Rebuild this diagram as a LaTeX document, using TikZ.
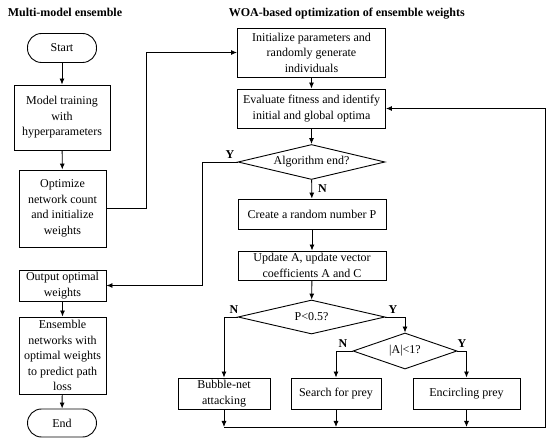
\documentclass[tikz,border=0pt]{standalone}
\usepackage{fontspec}
\setmainfont{Liberation Serif}
\usetikzlibrary{arrows.meta, shapes.geometric}

\begin{document}
\begin{tikzpicture}[x=1pt, y=-1pt, line width=0.9pt,
  font=\fontsize{12}{15.5}\selectfont,
  >={Latex[length=6pt, width=5pt]},
  box/.style={draw, rectangle, align=center, inner sep=0pt},
  term/.style={draw, rectangle, rounded corners=14pt, inner sep=0pt, minimum width=69pt, minimum height=29pt},
  decision/.style={draw, diamond, inner sep=0pt, aspect=4},
  yn/.style={font=\fontsize{12}{12}\selectfont\bfseries, inner sep=0pt}]

\useasboundingbox (0,0) rectangle (550,441);

% titles
\node[anchor=west, font=\fontsize{12}{12}\selectfont\bfseries] (ttlleft) at (4,12) {Multi-model ensemble};
\node[anchor=west, font=\fontsize{12}{12}\selectfont\bfseries] (ttlright) at (225,14) {WOA-based optimization of ensemble weights};

% multi-model ensemble
\node[term] (start) at (62,48) {Start};
\node[box, minimum width=96pt, minimum height=65pt] (train) at (62,117.5) {Model training\\with\\hyperparameters};
\node[box, minimum width=87pt, minimum height=77pt] (opt) at (62.5,208.5) {Optimize\\network count\\and initialize\\weights};
\node[box, minimum width=87pt, minimum height=31pt] (out) at (62.5,285.5) {Output optimal\\weights};
\node[box, minimum width=87pt, minimum height=77pt] (ens) at (62.5,355.5) {Ensemble\\networks with\\optimal weights\\to predict path\\loss};
\node[term, minimum height=28pt] (end) at (62,423) {End};

% WOA
\node[box, minimum width=148pt, minimum height=49pt] (init) at (311.5,52.5) {Initialize parameters and\\randomly generate\\individuals};
\node[box, minimum width=148pt, minimum height=39pt] (eval) at (311.5,108.5) {Evaluate fitness and identify\\initial and global optima};
\node[decision, minimum width=147pt, minimum height=35pt] (algend) at (311.5,162) {Algorithm end?};
\node[box, minimum width=148pt, minimum height=30pt] (create) at (312,214) {Create a random number P};
\node[box, minimum width=148pt, minimum height=29pt] (update) at (312,265.5) {Update A, update vector\\coefficients A and C};
\node[decision, minimum width=147pt, minimum height=34pt] (pcheck) at (311.5,317) {P<0.5?};
\node[decision, minimum width=104pt, minimum height=36pt] (acheck) at (405,351) {|A|<1?};
\node[box, minimum width=92pt, minimum height=31pt] (bubble) at (224,393.5) {Bubble-net\\attacking};
\node[box, minimum width=90pt, minimum height=31pt] (search) at (336,393.5) {Search for prey};
\node[box, minimum width=107pt, minimum height=31pt] (encircle) at (466.5,393.5) {Encircling prey};

\coordinate (loopcorner) at (545,427);

% left column
\draw[->] (start) -- (train);
\draw[->] (train) -- (opt);
\draw[->] (opt.east) -- (146,208.5) |- (init.west);
\draw[->] (out) -- (ens);
\draw[->] (ens) -- (end);

% right column
\draw[->] (init) -- (eval);
\draw[->] (eval) -- (algend);
\draw[->] (algend) -- node[yn, right=6pt, pos=0.45] {N} (create);
\draw[->] (algend.west) -- (202,162) |- (out.east);
\node[yn] (yend) at (230,155) {Y};
\draw[->] (create) -- (update);
\draw[->] (update) -- (pcheck);
\draw[->] (pcheck.west) -| (bubble.north);
\node[yn] (npcheck) at (234,310) {N};
\draw[->] (pcheck.east) -| (acheck.north);
\node[yn] (ypcheck) at (393,310) {Y};
\draw[->] (acheck.west) -| (search.north);
\node[yn] (nacheck) at (343,344) {N};
\draw[->] (acheck.east) -| (encircle.north);
\node[yn] (yacheck) at (462,344) {Y};

% back to fitness evaluation
\draw[->] (bubble.south) -- (bubble.south |- loopcorner);
\draw[->] (search.south) -- (search.south |- loopcorner);
\draw[->] (encircle.south) -- (encircle.south |- loopcorner);
\draw[->] (bubble.south |- loopcorner) -- (loopcorner) |- (eval.east);

\end{tikzpicture}
\end{document}
